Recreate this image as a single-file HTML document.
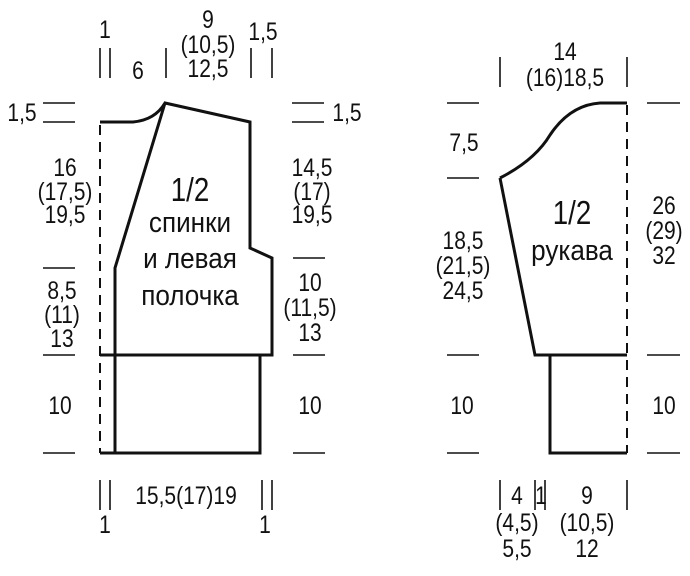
<!DOCTYPE html>
<html><head><meta charset="utf-8"><style>
html,body{margin:0;padding:0;background:#fff;}
svg{display:block;}
text{font-family:"Liberation Sans",sans-serif;font-size:25px;fill:#111;text-anchor:middle;transform-box:fill-box;transform-origin:center;transform:scaleX(0.84);}
.big{font-size:33px;}
.lab{font-size:29px;transform:scaleX(0.9);}
</style></head><body>
<svg width="690" height="576" viewBox="0 0 690 576" xmlns="http://www.w3.org/2000/svg">
<g stroke="#111" stroke-width="2" fill="none">
<line x1="100" y1="125" x2="100" y2="453" stroke-dasharray="10,7"/>
<path d="M100 122 L133 122 Q155 120 165 103 L250 122 L250 248 L272 258 L272 355 L100 355" stroke-width="3"/>
<path d="M165 103 L115 268 L115 453 L260 453 L260 355" stroke-width="3"/>
<line x1="100" y1="453" x2="115" y2="453" stroke-width="3"/>
<line x1="627" y1="105" x2="627" y2="453" stroke-dasharray="10,7"/>
<path d="M500 178 Q535 160 550 135 Q570 105 600 103 L627 103" stroke-width="3"/>
<path d="M500 178 L535 355 L627 355" stroke-width="3"/>
<path d="M550 355 L550 453 L627 453" stroke-width="3"/>
</g>
<g stroke="#111" stroke-width="1.6">
<line x1="100" y1="48" x2="100" y2="78"/><line x1="110" y1="48" x2="110" y2="78"/>
<line x1="166" y1="48" x2="166" y2="78"/><line x1="251" y1="48" x2="251" y2="78"/><line x1="272" y1="48" x2="272" y2="78"/>
<line x1="43" y1="103" x2="75" y2="103"/><line x1="43" y1="122" x2="75" y2="122"/>
<line x1="43" y1="268" x2="75" y2="268"/><line x1="43" y1="355" x2="75" y2="355"/><line x1="43" y1="453" x2="75" y2="453"/>
<line x1="292" y1="103" x2="324" y2="103"/><line x1="292" y1="122" x2="324" y2="122"/>
<line x1="293" y1="258" x2="325" y2="258"/><line x1="293" y1="355" x2="325" y2="355"/><line x1="293" y1="453" x2="325" y2="453"/>
<line x1="100" y1="480" x2="100" y2="510"/><line x1="110" y1="480" x2="110" y2="510"/>
<line x1="262" y1="480" x2="262" y2="510"/><line x1="272" y1="480" x2="272" y2="510"/>
<line x1="500" y1="57" x2="500" y2="87"/><line x1="627" y1="57" x2="627" y2="87"/>
<line x1="447" y1="103" x2="479" y2="103"/><line x1="447" y1="178" x2="479" y2="178"/>
<line x1="447" y1="355" x2="479" y2="355"/><line x1="447" y1="453" x2="479" y2="453"/>
<line x1="647" y1="103" x2="680" y2="103"/><line x1="647" y1="355" x2="680" y2="355"/><line x1="647" y1="453" x2="680" y2="453"/>
<line x1="500" y1="480" x2="500" y2="510"/><line x1="535" y1="480" x2="535" y2="510"/>
<line x1="545" y1="480" x2="545" y2="510"/><line x1="627" y1="480" x2="627" y2="510"/>
</g>
<text x="105" y="38">1</text>
<text x="138" y="79">6</text>
<text x="208" y="28">9</text><text x="208" y="53">(10,5)</text><text x="208" y="77">12,5</text>
<text x="263" y="40">1,5</text>
<text x="22" y="121">1,5</text><text x="347" y="121">1,5</text>
<text x="65" y="176">16</text><text x="65" y="200">(17,5)</text><text x="65" y="223">19,5</text>
<text x="62" y="299">8,5</text><text x="62" y="323">(11)</text><text x="62" y="347">13</text>
<text x="60" y="414">10</text>
<text x="312" y="176">14,5</text><text x="312" y="200">(17)</text><text x="312" y="223">19,5</text>
<text x="310" y="291">10</text><text x="310" y="316">(11,5)</text><text x="310" y="341">13</text>
<text x="310" y="414">10</text>
<text class="big" x="190" y="201">1/2</text>
<text class="lab" x="190" y="232">спинки</text>
<text class="lab" x="190" y="268">и левая</text>
<text class="lab" x="190" y="305">полочка</text>
<text x="186" y="504">15,5(17)19</text>
<text x="105" y="533">1</text><text x="265" y="533">1</text>
<text x="565" y="60">14</text><text x="565" y="86">(16)18,5</text>
<text x="464" y="151">7,5</text>
<text x="463" y="249">18,5</text><text x="463" y="274">(21,5)</text><text x="463" y="299">24,5</text>
<text x="462" y="414">10</text>
<text x="664" y="214">26</text><text x="664" y="239">(29)</text><text x="664" y="264">32</text>
<text x="664" y="414">10</text>
<text class="big" x="572" y="224">1/2</text>
<text class="lab" x="572" y="260">рукава</text>
<text x="517" y="504">4</text><text x="541" y="504">1</text><text x="587" y="504">9</text>
<text x="517" y="531">(4,5)</text><text x="587" y="531">(10,5)</text>
<text x="517" y="557">5,5</text><text x="587" y="557">12</text>
</svg>
</body></html>
